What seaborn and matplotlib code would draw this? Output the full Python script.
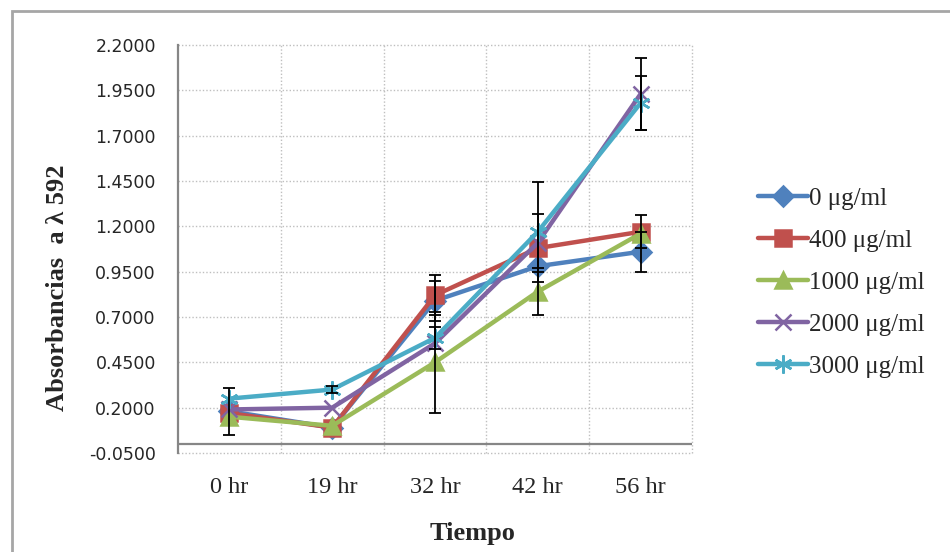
import matplotlib
matplotlib.use("Agg")
import matplotlib.pyplot as plt
import matplotlib.patches as mpatches
import numpy as np
import pandas as pd
import seaborn as sns

# Data
times = ["0 hr", "19 hr", "32 hr", "42 hr", "56 hr"]
labels = ["0 μg/ml", "400 μg/ml", "1000 μg/ml", "2000 μg/ml", "3000 μg/ml"]

conc_0 = [0.18, 0.09, 0.79, 0.98, 1.06]
conc_400 = [0.17, 0.09, 0.82, 1.08, 1.17]
conc_1000 = [0.15, 0.10, 0.45, 0.84, 1.16]
conc_2000 = [0.19, 0.20, 0.555, 1.11, 1.93]
conc_3000 = [0.25, 0.30, 0.585, 1.17, 1.88]

err_0 = [0.13, 0, 0.11, 0, 0.11]
err_400 = [0, 0, 0.11, 0, 0.09]
err_1000 = [0, 0, 0.28, 0.13, 0]
err_2000 = [0, 0, 0, 0.16, 0.2]
err_3000 = [0, 0.02, 0.06, 0.275, 0.15]

yticks = [-0.05, 0.2, 0.45, 0.7, 0.95, 1.2, 1.45, 1.7, 1.95, 2.2]

values = [conc_0, conc_400, conc_1000, conc_2000, conc_3000]
errors = [err_0, err_400, err_1000, err_2000, err_3000]
colors = ["#4F81BD", "#C0504D", "#9BBB59", "#8064A2", "#4BACC6"]
markers = ["D", "s", "^", "x", (6, 2, 0)]
msizes = [10, 11, 11, 11, 13]

sns.set_style("white")
serif = ["Liberation Serif", "DejaVu Serif"]

fig = plt.figure(figsize=(9.5, 5.52), dpi=100)
ax = fig.add_axes([178 / 950, 1 - 453 / 552, 514 / 950, 408 / 552])

x = np.arange(len(times))
for vals, errs, col, mk, ms, lab in zip(values, errors, colors, markers, msizes, labels):
    df = pd.DataFrame({"t": x, "v": vals})
    sns.lineplot(data=df, x="t", y="v", ax=ax, color=col, lw=3.2, marker=mk,
                 markersize=ms, markeredgecolor=col, markeredgewidth=1.8,
                 label=lab, zorder=3)

for vals, errs in zip(values, errors):
    idx = [i for i, e in enumerate(errs) if e > 0]
    ax.errorbar([x[i] for i in idx], [vals[i] for i in idx],
                yerr=[errs[i] for i in idx], fmt="none", ecolor="black",
                elinewidth=1.3, capsize=4, capthick=1.3, zorder=4)

ax.set_xlim(-0.5, 4.5)
ax.set_ylim(-0.05, 2.2)
ax.set_yticks(yticks)
ax.set_yticklabels([f"{v:.4f}" for v in yticks], fontsize=12.5,
                   family="DejaVu Sans")
ax.set_xticks(x)
ax.set_xticklabels(times, fontsize=17.5, family=serif)
ax.set_xticks(np.arange(len(times)) + 0.5, minor=True)
ax.tick_params(axis="x", which="both", length=0, pad=17)
ax.tick_params(axis="y", length=0, pad=16)

ax.grid(True, axis="y", which="major", color="#BFBFBF", ls=(0, (1, 1.5)), lw=1)
ax.grid(True, axis="x", which="minor", color="#BFBFBF", ls=(0, (1, 1.5)), lw=1)
for t in ax.yaxis.get_major_ticks() + ax.xaxis.get_minor_ticks():
    t.gridline.set_clip_on(False)

for s in ["top", "right", "bottom"]:
    ax.spines[s].set_visible(False)
ax.spines["left"].set_color("#868686")
ax.spines["left"].set_linewidth(1.6)
ax.axhline(0, color="#868686", lw=1.6, zorder=2)

ax.set_xlabel("Tiempo", fontsize=19, fontweight="bold", family=serif)
ax.set_ylabel("Absorbancias  a λ 592", fontsize=19, fontweight="bold",
              family=serif)
ax.xaxis.set_label_coords((473 - 178) / 514, (453 - 522) / 408)
ax.yaxis.set_label_coords((69 - 178) / 514, (453 - 288) / 408)

ax.legend(loc="center left", bbox_to_anchor=(758 / 950, 1 - 283 / 552),
          bbox_transform=fig.transFigure, frameon=False, numpoints=1,
          prop={"family": serif, "size": 18}, handlelength=2.0,
          handletextpad=0.05, labelspacing=0.78, borderpad=0, borderaxespad=0)

fig.add_artist(mpatches.Rectangle((12 / 950, -0.02), 1.0, 1 - 11 / 552 + 0.02,
                                  transform=fig.transFigure, fill=False,
                                  edgecolor="#A6A6A6", lw=2))

fig.savefig("out.png", dpi=100)
